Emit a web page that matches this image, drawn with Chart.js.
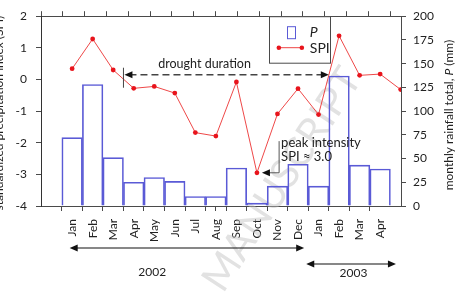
<!DOCTYPE html>
<html>
<head>
<meta charset="utf-8">
<script src="https://cdn.jsdelivr.net/npm/chart.js@4"></script>
<style>
  html, body { margin: 0; padding: 0; background: #fff; }
  #wrap { width: 459px; height: 293px; position: relative; }
</style>
</head>
<body>
<div id="wrap"><canvas id="spiChart"></canvas></div>
<script>
// Months Jan 2002 .. Apr 2003 (May 2003 only used by the SPI line, clipped at the edge)
const months = ['Jan', 'Feb', 'Mar', 'Apr', 'May', 'Jun', 'Jul', 'Aug', 'Sep', 'Oct', 'Nov', 'Dec',
                'Jan', 'Feb', 'Mar', 'Apr', 'May'];
// monthly rainfall total P (mm)
const rainfall = [72, 128, 51, 25, 30, 26, 10, 10, 40, 3, 21, 44, 21, 137, 43, 39];
// standardized precipitation index
const spi = [0.34, 1.28, 0.30, -0.28, -0.22, -0.43, -1.68, -1.79, -0.08, -2.95, -1.09, -0.29,
             -1.11, 1.38, 0.13, 0.17, -0.32];
const spiTicks = [-4, -3, -2, -1, 0, 1, 2];
const rainTicks = [0, 25, 50, 75, 100, 125, 150, 175, 200];
const years = ['2002', '2003'];

const FONT = 'Lato, "Open Sans", sans-serif';
const AXIS = '#4a4a4a';

function arrowHead(ctx, x, y, dir) {
    ctx.beginPath();
    ctx.moveTo(x, y);
    ctx.lineTo(x - dir * 8, y - 3.5);
    ctx.lineTo(x - dir * 8, y + 3.5);
    ctx.closePath();
    ctx.fill();
}

const watermark = {
    id: 'watermark',
    beforeDatasetsDraw(chart) {
        const ctx = chart.ctx;
        ctx.save();
        ctx.translate(352, 72);
        ctx.rotate(-57 * Math.PI / 180);
        ctx.font = '40px ' + FONT;
        ctx.fillStyle = 'rgba(190,190,190,0.45)';
        ctx.textAlign = 'right';
        ctx.textBaseline = 'middle';
        ctx.fillText('ACCEPTED MANUSCRIPT', 0, 0);
        ctx.restore();
    }
};

const annotations = {
    id: 'annotations',
    afterDraw(chart) {
        const ctx = chart.ctx;
        const x = chart.scales.x, y = chart.scales.y, area = chart.chartArea;
        ctx.save();

        // drought duration arrow
        const dy = y.getPixelForValue(0.15);
        const x0 = x.getPixelForValue(2.5), x1 = x.getPixelForValue(12.5);
        ctx.strokeStyle = '#444';
        ctx.fillStyle = '#111';
        ctx.lineWidth = 1;
        ctx.beginPath();
        ctx.moveTo(x0, dy - 7); ctx.lineTo(x0, dy + 13);
        ctx.stroke();
        ctx.setLineDash([7, 4]);
        ctx.lineWidth = 1.5;
        ctx.beginPath();
        ctx.moveTo(x0 + 6, dy); ctx.lineTo(x1 - 6, dy);
        ctx.stroke();
        ctx.setLineDash([]);
        arrowHead(ctx, x0 + 1, dy, -1);
        arrowHead(ctx, x1, dy, 1);
        ctx.font = '12.5px ' + FONT;
        ctx.fillStyle = '#222';
        ctx.textAlign = 'center';
        ctx.textBaseline = 'middle';
        ctx.fillText('drought duration', x.getPixelForValue(6.45), y.getPixelForValue(0.5));

        // peak intensity
        const px = x.getPixelForValue(9), py = y.getPixelForValue(spi[9]);
        const vx = x.getPixelForValue(10.08);
        ctx.strokeStyle = '#555';
        ctx.lineWidth = 1;
        ctx.beginPath();
        ctx.moveTo(vx, y.getPixelForValue(-1.95)); ctx.lineTo(vx, py); ctx.lineTo(px + 8, py);
        ctx.stroke();
        ctx.fillStyle = '#111';
        arrowHead(ctx, px + 5, py, -1);
        ctx.fillStyle = '#222';
        ctx.textAlign = 'left';
        ctx.font = '13px ' + FONT;
        ctx.fillText('peak intensity', vx + 2, y.getPixelForValue(-2.0));
        ctx.fillText('SPI \u2248 3.0', vx + 2, y.getPixelForValue(-2.45));

        // legend box
        const lx = x.getPixelForValue(9.58), lr = x.getPixelForValue(12.56);
        const ly = area.top + 0.5, lb = area.top + 47;
        ctx.fillStyle = '#fff';
        ctx.fillRect(lx, ly, lr - lx, lb - ly);
        ctx.strokeStyle = AXIS;
        ctx.strokeRect(Math.round(lx) + 0.5, ly, Math.round(lr - lx), lb - ly);
        ctx.strokeStyle = '#5a5ad6';
        ctx.strokeRect(Math.round(lx) + 18.5, ly + 10, 8, 12);
        ctx.strokeStyle = '#ee4444';
        ctx.beginPath();
        ctx.moveTo(lx + 10, ly + 31); ctx.lineTo(lx + 33, ly + 31);
        ctx.stroke();
        ctx.fillStyle = '#e8141c';
        [lx + 10, lx + 33].forEach(cx => { ctx.beginPath(); ctx.arc(cx, ly + 31, 2.3, 0, 2 * Math.PI); ctx.fill(); });
        ctx.fillStyle = '#222';
        ctx.font = 'italic 14px ' + FONT;
        ctx.fillText('P', lx + 41, ly + 16);
        ctx.font = '14px ' + FONT;
        ctx.fillText('SPI', lx + 41, ly + 32);

        // year arrows under the month labels
        const y1 = area.bottom + 42, y2 = area.bottom + 58;
        const a0 = x.getPixelForValue(-0.12), a1 = x.getPixelForValue(11.3);
        const b0 = x.getPixelForValue(11.4), b1 = x.getPixelForValue(15.77);
        ctx.strokeStyle = '#111';
        ctx.fillStyle = '#111';
        ctx.lineWidth = 1.2;
        ctx.beginPath();
        ctx.moveTo(a0 + 4, y1); ctx.lineTo(a1 - 4, y1);
        ctx.moveTo(b0 + 4, y2); ctx.lineTo(b1 - 4, y2);
        ctx.stroke();
        arrowHead(ctx, a0, y1, -1); arrowHead(ctx, a1, y1, 1);
        arrowHead(ctx, b0, y2, -1); arrowHead(ctx, b1, y2, 1);
        ctx.fillStyle = '#222';
        ctx.font = '12px ' + FONT;
        ctx.textAlign = 'center';
        ctx.fillText(years[0], x.getPixelForValue(3.9), area.bottom + 66);
        ctx.fillText(years[1], x.getPixelForValue(13.7), area.bottom + 67);

        // axis titles (left one sits mostly outside the picture)
        ctx.save();
        ctx.translate(3, (area.top + area.bottom) / 2 + 2);
        ctx.rotate(-Math.PI / 2);
        ctx.textBaseline = 'alphabetic';
        ctx.font = '12px ' + FONT;
        ctx.fillText('standardized precipitation index (SPI)', 0, 0);
        ctx.restore();

        ctx.save();
        ctx.translate(453, (area.top + area.bottom) / 2 + 4);
        ctx.rotate(-Math.PI / 2);
        ctx.textBaseline = 'alphabetic';
        ctx.textAlign = 'left';
        const t1 = 'monthly rainfall total, ', t2 = 'P', t3 = ' (mm)';
        ctx.font = '12px ' + FONT;
        const w1 = ctx.measureText(t1).width, w3 = ctx.measureText(t3).width;
        ctx.font = 'italic 12px ' + FONT;
        const w2 = ctx.measureText(t2).width;
        let sx = -(w1 + w2 + w3) / 2;
        ctx.font = '12px ' + FONT;
        ctx.fillText(t1, sx, 0);
        ctx.font = 'italic 12px ' + FONT;
        ctx.fillText(t2, sx + w1, 0);
        ctx.font = '12px ' + FONT;
        ctx.fillText(t3, sx + w1 + w2, 0);
        ctx.restore();

        ctx.restore();
    }
};

const gridOpts = { drawOnChartArea: false, tickLength: 5, color: AXIS, tickColor: AXIS };

new Chart(document.getElementById('spiChart'), {
    data: {
        datasets: [{
            type: 'line',
            label: 'SPI',
            data: spi.map((v, i) => ({ x: i, y: v })),
            xAxisID: 'x',
            yAxisID: 'y',
            borderColor: '#ee4848',
            borderWidth: 1,
            pointRadius: 2.4,
            pointBackgroundColor: '#e8141c',
            pointBorderWidth: 0,
            tension: 0,
            order: 0
        }, {
            type: 'bar',
            label: 'P',
            data: rainfall.map((v, i) => ({ x: i, y: v })),
            xAxisID: 'x',
            yAxisID: 'y1',
            backgroundColor: 'rgba(255,255,255,0)',
            borderColor: '#5a5ad6',
            borderWidth: 1,
            barPercentage: 1,
            categoryPercentage: 1,
            order: 1
        }]
    },
    options: {
        responsive: true,
        maintainAspectRatio: false,
        animation: false,
        layout: { padding: 0 },
        plugins: { legend: { display: false }, tooltip: { enabled: false } },
        scales: {
            x: {
                type: 'linear',
                position: 'bottom',
                min: -1,
                max: 15.5,
                afterBuildTicks: s => { s.ticks = months.slice(0, 16).map((m, i) => ({ value: i })).concat([{ value: -1 }]); },
                ticks: {
                    autoSkip: false,
                    maxRotation: 90,
                    minRotation: 90,
                    padding: 8,
                    color: '#222',
                    font: { family: FONT, size: 12 },
                    callback: v => (v >= 0 && v < months.length ? months[v] : '')
                },
                grid: gridOpts,
                border: { color: AXIS },
                afterFit: s => { s.height = 87; }
            },
            xTop: {
                type: 'linear',
                position: 'top',
                min: -1,
                max: 15.5,
                afterBuildTicks: s => { s.ticks = months.slice(0, 16).map((m, i) => ({ value: i })).concat([{ value: -1 }]); },
                ticks: { display: false },
                grid: gridOpts,
                border: { color: AXIS },
                afterFit: s => { s.height = 12; }
            },
            y: {
                type: 'linear',
                position: 'left',
                min: -4,
                max: 2,
                ticks: {
                    stepSize: 0.5,
                    padding: 9,
                    color: '#222',
                    font: { family: FONT, size: 12 },
                    callback: v => (spiTicks.includes(v) ? String(v) : '')
                },
                grid: gridOpts,
                border: { color: '#333' },
                afterFit: s => { s.width = 41; }
            },
            y1: {
                type: 'linear',
                position: 'right',
                min: 0,
                max: 200,
                afterBuildTicks: s => { s.ticks = rainTicks.map(v => ({ value: v })); },
                ticks: {
                    padding: 7,
                    color: '#222',
                    font: { family: FONT, size: 12 }
                },
                grid: gridOpts,
                border: { color: AXIS },
                afterFit: s => { s.width = 58; }
            }
        }
    },
    plugins: [watermark, annotations]
});
</script>
</body>
</html>
